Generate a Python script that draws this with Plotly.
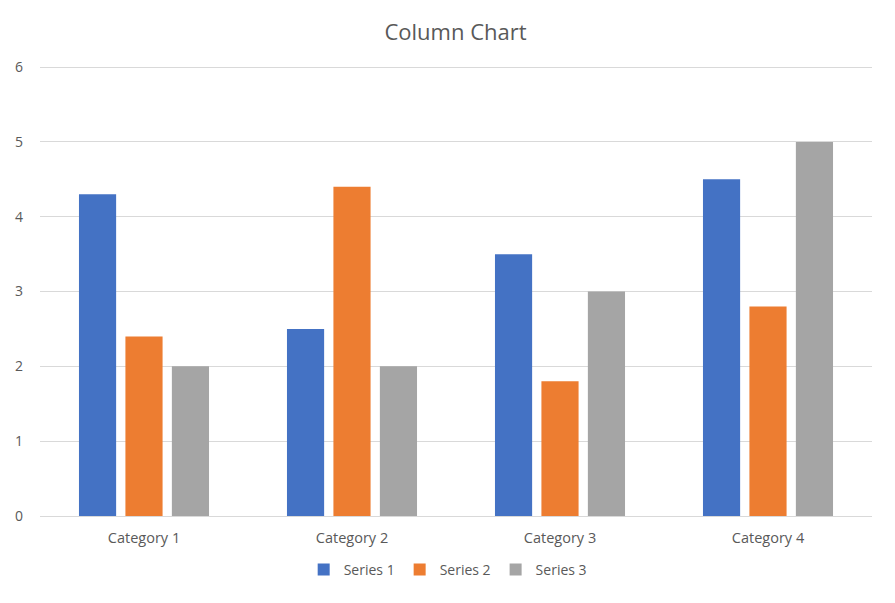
import plotly.graph_objects as go

categories = ['Category 1', 'Category 2', 'Category 3', 'Category 4']
series_names = ['Series 1', 'Series 2', 'Series 3']
series_values = [
    [4.3, 2.5, 3.5, 4.5],
    [2.4, 4.4, 1.8, 2.8],
    [2.0, 2.0, 3.0, 5.0],
]
colors = ['#4472C4', '#ED7D31', '#A5A5A5']
y_ticks = [0, 1, 2, 3, 4, 5, 6]

text_color = '#595959'
grid_color = '#D9D9D9'
font_family = 'Open Sans, Noto Sans, sans-serif'

W, H = 895, 603
# the page puts the figure 8px in from the top left corner
top, bottom, left, right = 58, 508, 32, 864

fig = go.Figure()
for name, vals, col in zip(series_names, series_values, colors):
    fig.add_trace(go.Bar(x=categories, y=vals, name=name, marker=dict(color=col, line=dict(width=0))))

fig.update_layout(
    width=W,
    height=H,
    paper_bgcolor='white',
    plot_bgcolor='white',
    barmode='group',
    bargap=0.33,
    bargroupgap=0.2,
    margin=dict(l=left, r=W - right, t=top, b=H - bottom, pad=0, autoexpand=False),
    font=dict(family=font_family, color=text_color, size=14.5),
    title=dict(text='Column Chart', x=0.5, xanchor='center', y=1 - 24 / H, yanchor='middle',
               font=dict(size=22, color=text_color, family=font_family)),
    legend=dict(orientation='h', x=0.49, xanchor='center', y=-(562 - bottom) / (bottom - top), yanchor='middle',
                font=dict(size=14, color=text_color), itemwidth=30, traceorder='normal'),
    xaxis=dict(showgrid=False, showline=True, linecolor=grid_color, linewidth=1, automargin=False,
               ticks='', ticklabelstandoff=9, tickfont=dict(size=14.5, color=text_color)),
    yaxis=dict(range=[0, 6.015], tickvals=y_ticks, showgrid=True, gridcolor=grid_color, gridwidth=1,
               zeroline=False, showline=False, ticks='', ticklabelstandoff=16, automargin=False,
               tickfont=dict(size=14, color=text_color)),
)

fig.write_html('out.html')
